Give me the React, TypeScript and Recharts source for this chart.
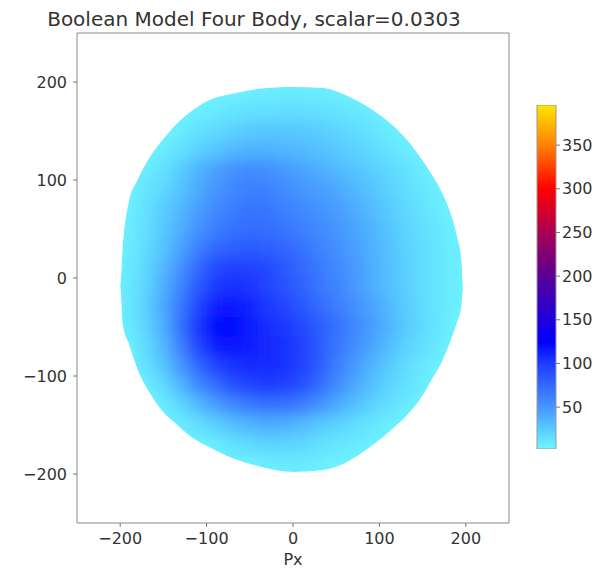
import React from "react";
import {
  ComposedChart,
  Area,
  Scatter,
  XAxis,
  YAxis,
  ReferenceArea,
  BarChart,
  Bar,
} from "recharts";

const title = "Boolean Model Four Body, scalar=0.0303";
const xLabel = "Px";
const axisDomain = [-250, 250];
const axisTicks = [-200, -100, 0, 100, 200];
const cellStep = 20;

// bin centres: Px across, Py down the rows
const pxCenters = [-190, -170, -150, -130, -110, -90, -70, -50, -30, -10, 10, 30, 50, 70, 90, 110, 130, 150, 170, 190];
const pyCenters = [190, 170, 150, 130, 110, 90, 70, 50, 30, 10, -10, -30, -50, -70, -90, -110, -130, -150, -170, -190];

// binned counts, one row per Py centre (0 = empty bin)
const cellValues = [
  [0, 0, 0, 0, 0, 0, 3, 4, 5, 6, 6, 5, 4, 0, 0, 0, 0, 0, 0, 0],
  [0, 0, 0, 0, 4, 7, 10, 12, 13, 14, 14, 13, 11, 8, 5, 0, 0, 0, 0, 0],
  [0, 0, 0, 5, 12, 17, 22, 25, 27, 27, 26, 23, 20, 16, 11, 6, 0, 0, 0, 0],
  [0, 0, 6, 12, 22, 28, 33, 37, 37, 35, 33, 30, 26, 22, 17, 12, 6, 0, 0, 0],
  [0, 6, 13, 24, 36, 45, 52, 56, 54, 49, 44, 39, 34, 29, 24, 18, 12, 6, 0, 0],
  [0, 10, 18, 29, 40, 50, 58, 63, 61, 56, 51, 46, 42, 35, 29, 22, 15, 9, 4, 0],
  [4, 13, 23, 34, 46, 56, 64, 69, 67, 62, 57, 52, 47, 40, 33, 25, 18, 11, 5, 0],
  [5, 14, 26, 38, 52, 63, 70, 73, 72, 68, 63, 57, 51, 44, 37, 29, 20, 14, 8, 0],
  [6, 16, 29, 44, 62, 75, 81, 83, 81, 77, 70, 61, 54, 46, 38, 30, 22, 15, 9, 4],
  [7, 18, 34, 53, 75, 92, 98, 97, 92, 84, 76, 66, 58, 49, 40, 31, 23, 15, 9, 4],
  [8, 20, 38, 60, 84, 101, 106, 103, 96, 88, 79, 69, 60, 50, 40, 31, 23, 15, 9, 4],
  [8, 22, 41, 66, 95, 112, 116, 111, 102, 95, 85, 75, 65, 55, 45, 35, 25, 16, 9, 4],
  [7, 20, 39, 70, 103, 120, 122, 114, 107, 102, 94, 83, 71, 59, 48, 37, 26, 17, 9, 0],
  [3, 16, 34, 63, 94, 112, 116, 112, 108, 105, 97, 84, 69, 56, 44, 33, 22, 14, 7, 0],
  [0, 12, 28, 50, 76, 95, 104, 108, 107, 104, 97, 82, 65, 50, 37, 26, 16, 9, 3, 0],
  [0, 4, 16, 35, 57, 73, 87, 96, 99, 97, 89, 74, 57, 43, 31, 21, 13, 6, 0, 0],
  [0, 0, 6, 18, 33, 46, 58, 66, 70, 70, 64, 53, 42, 31, 22, 14, 7, 0, 0, 0],
  [0, 0, 0, 5, 14, 22, 30, 36, 39, 38, 34, 27, 21, 15, 10, 5, 0, 0, 0, 0],
  [0, 0, 0, 0, 0, 6, 12, 17, 20, 20, 18, 14, 10, 7, 4, 0, 0, 0, 0, 0],
  [0, 0, 0, 0, 0, 0, 0, 3, 6, 7, 7, 5, 3, 0, 0, 0, 0, 0, 0, 0],
];

// outline of the populated region
const edgeX = [-200, -197, -190, -180, -166, -150, -134, -115, -96, -70, -40, 0, 35, 60, 93, 115, 132, 150, 159, 172, 182, 190, 195, 197];
const edgeTop = [-8, 32, 78, 100, 123, 142, 158, 172, 182, 188, 193, 195, 194, 187, 171, 156, 141, 120, 108, 88, 67, 42, 17, -10];
const edgeBottom = [-8, -48, -67, -93, -117, -137, -150, -164, -173, -184, -192, -198, -196, -189, -170, -154, -140, -120, -106, -86, -65, -45, -28, -10];

const colorbarRange = [2, 396];
const colorbarTicks = [50, 100, 150, 200, 250, 300, 350];

// cyan -> blue -> purple -> red -> yellow
const cmapValues = [0, 25, 50, 100, 125, 200, 250, 300, 350, 396];
const cmapColors = ["#70f6ff", "#58cbff", "#4696ff", "#1e3cff", "#0000ff", "#5a0096", "#aa0055", "#ff0000", "#ff8200", "#ffe600"];

const FONT = "'DejaVu Sans', sans-serif";
const TEXT = "#333";
const PLOT_W = 432;
const PLOT_H = 490;

function hexToRgb(h: string) {
  return [1, 3, 5].map((i) => parseInt(h.slice(i, i + 2), 16));
}

function cmap(v: number) {
  const last = cmapValues.length - 1;
  if (v <= cmapValues[0]) return cmapColors[0];
  if (v >= cmapValues[last]) return cmapColors[last];
  let i = 0;
  while (v > cmapValues[i + 1]) i++;
  const t = (v - cmapValues[i]) / (cmapValues[i + 1] - cmapValues[i]);
  const a = hexToRgb(cmapColors[i]);
  const b = hexToRgb(cmapColors[i + 1]);
  const c = a.map((ch, k) => Math.round(ch + (b[k] - ch) * t));
  return `rgb(${c[0]},${c[1]},${c[2]})`;
}

const cells = pyCenters.flatMap((py, r) =>
  pxCenters
    .map((px, c) => ({ px, py, value: cellValues[r][c] }))
    .filter((d) => d.value > 0)
);

// outline rows: the filled blob plus white masks above / below it
const [lo, hi] = axisDomain;
const outline = [
  { px: lo, blob: null, maskHi: [edgeTop[0], hi], maskLo: [lo, edgeBottom[0]] },
  ...edgeX.map((px, i) => ({
    px,
    blob: [edgeBottom[i], edgeTop[i]],
    maskHi: [edgeTop[i], hi],
    maskLo: [lo, edgeBottom[i]],
  })),
  {
    px: hi,
    blob: null,
    maskHi: [edgeTop[edgeTop.length - 1], hi],
    maskLo: [lo, edgeBottom[edgeBottom.length - 1]],
  },
];

const fmt = (v: number) => (v < 0 ? `\u2212${Math.abs(v)}` : String(v));

const HeatCell = (props: any) => {
  const { cx, cy, payload } = props;
  if (cx == null || cy == null) return null;
  const span = axisDomain[1] - axisDomain[0];
  const w = (cellStep * PLOT_W) / span + 0.8;
  const h = (cellStep * PLOT_H) / span + 0.8;
  return <rect x={cx - w / 2} y={cy - h / 2} width={w} height={h} fill={cmap(payload.value)} />;
};

export default function App() {
  const tickStyle = { fontSize: 16, fill: TEXT, fontFamily: FONT };
  const cbSpan = colorbarRange[1] - colorbarRange[0];

  return (
    <div style={{ position: "absolute", left: 0, top: 0, width: 601, height: 571, background: "#fff", fontFamily: FONT }}>
      <style>{`.heat-layer { filter: url(#soften); }`}</style>

      {/* Title */}
      <div
        style={{
          position: "absolute",
          left: 0,
          top: 9,
          width: 508,
          textAlign: "center",
          fontSize: 20,
          lineHeight: "20px",
          color: TEXT,
          whiteSpace: "nowrap",
        }}
      >
        {title}
      </div>

      {/* Density map */}
      <div style={{ position: "absolute", left: 0, top: 0 }}>
        <ComposedChart
          width={520}
          height={571}
          data={outline}
          margin={{ top: 33, right: 11, bottom: 0, left: 17 }}
        >
          <defs>
            <filter id="soften" x="-10%" y="-10%" width="120%" height="120%">
              <feGaussianBlur stdDeviation="7" />
            </filter>
          </defs>
          <XAxis
            type="number"
            dataKey="px"
            domain={axisDomain}
            ticks={axisTicks}
            tickFormatter={fmt}
            axisLine={false}
            tickLine={{ stroke: "#777" }}
            tickSize={4}
            tickMargin={6}
            height={48}
            tick={tickStyle}
            label={{ value: xLabel, position: "insideBottom", offset: 6, fontSize: 16, fill: TEXT, fontFamily: FONT }}
          />
          <YAxis
            type="number"
            dataKey="py"
            domain={axisDomain}
            ticks={axisTicks}
            tickFormatter={fmt}
            axisLine={false}
            tickLine={{ stroke: "#777" }}
            tickSize={4}
            tickMargin={6}
            width={60}
            tick={tickStyle}
          />
          <Area
            type="monotone"
            dataKey="blob"
            fill={cmap(colorbarRange[0])}
            fillOpacity={1}
            stroke="none"
            zIndex={50}
            isAnimationActive={false}
          />
          <Scatter
            className="heat-layer"
            data={cells}
            dataKey="py"
            shape={HeatCell}
            zIndex={60}
            isAnimationActive={false}
          />
          <Area
            type="monotone"
            dataKey="maskHi"
            fill="#fff"
            fillOpacity={1}
            stroke="none"
            zIndex={70}
            isAnimationActive={false}
          />
          <Area
            type="monotone"
            dataKey="maskLo"
            fill="#fff"
            fillOpacity={1}
            stroke="none"
            zIndex={70}
            isAnimationActive={false}
          />
          <ReferenceArea
            x1={axisDomain[0]}
            x2={axisDomain[1]}
            y1={axisDomain[0]}
            y2={axisDomain[1]}
            fill="none"
            stroke="#8a8a8a"
            strokeWidth={1}
            ifOverflow="visible"
            zIndex={80}
          />
        </ComposedChart>
      </div>

      {/* Colorbar */}
      <div style={{ position: "absolute", left: 530, top: 95 }}>
        <BarChart
          width={71}
          height={370}
          data={[{ name: "cb", range: colorbarRange }]}
          margin={{ top: 10, right: 0, bottom: 16, left: 7 }}
          barCategoryGap={0}
        >
          <defs>
            <linearGradient id="cbGrad" x1="0" y1="1" x2="0" y2="0">
              {cmapValues.map((v, i) => (
                <stop
                  key={i}
                  offset={Math.min(1, Math.max(0, (v - colorbarRange[0]) / cbSpan))}
                  stopColor={cmapColors[i]}
                />
              ))}
            </linearGradient>
          </defs>
          <XAxis dataKey="name" hide />
          <YAxis
            orientation="right"
            type="number"
            domain={colorbarRange}
            ticks={colorbarTicks}
            allowDataOverflow
            axisLine={false}
            tickLine={{ stroke: "#777" }}
            tickSize={4}
            tickMargin={2}
            width={45}
            tick={tickStyle}
          />
          <Bar dataKey="range" fill="url(#cbGrad)" stroke="#999" strokeWidth={1} isAnimationActive={false} />
        </BarChart>
      </div>
    </div>
  );
}
